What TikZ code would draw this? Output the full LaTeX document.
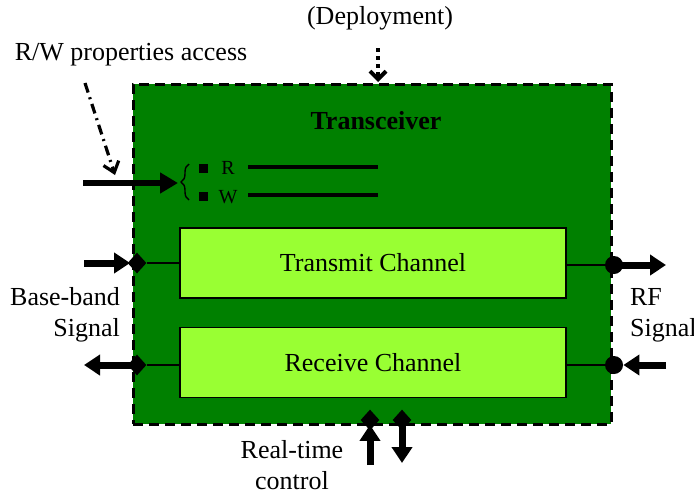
\documentclass[tikz,border=0pt]{standalone}
\usepackage{fontspec}
\setmainfont{Liberation Serif}
\usepackage{tikz}
\usetikzlibrary{calc}
\usetikzlibrary{arrows.meta}
\usetikzlibrary{positioning}
\usetikzlibrary{shapes.geometric}
\usetikzlibrary{decorations.pathreplacing}
\definecolor{xcvrgreen}{RGB}{0,128,0}
\definecolor{changreen}{RGB}{153,255,51}
\pgfkeys{tikz/xcvrbox/.style={draw,dash pattern=on 5pt off 3pt,line width=1.5pt,fill=xcvrgreen,minimum width=239pt,minimum height=170pt,inner sep=0pt}}
\pgfkeys{tikz/chanbox/.style={draw,line width=0.6pt,fill=changreen,minimum width=193pt,minimum height=35pt,inner sep=0pt}}
\pgfkeys{tikz/dport/.style={diamond,fill=black,inner sep=0pt,minimum width=9.5pt,minimum height=10.5pt}}
\pgfkeys{tikz/cport/.style={circle,fill=black,inner sep=0pt,minimum size=9pt}}
\pgfkeys{tikz/sig/.style={line width=3.5pt,-{Triangle[length=8pt,width=10pt]}}}
\pgfkeys{tikz/wire/.style={line width=0.8pt}}

\begin{document}
\begin{tikzpicture}[x=0.5pt,y=-0.5pt,font=\fontsize{13}{15.5}\selectfont]
    \useasboundingbox (0,0) rectangle (694,493);
    % transceiver
    \node[xcvrbox] (xcvr) at (372,254) {};
    \node[font=\fontsize{13}{15.5}\selectfont\bfseries] (title) at (376,121) {Transceiver};
    \node[chanbox] (tx) at (373,263) {Transmit Channel};
    \node[chanbox] (rx) at (373,362.5) {Receive Channel};
    % ports
    \node[dport] (bbin) at (137,263) {};
    \node[dport] (bbout) at (137,365) {};
    \node[cport] (rfout) at (614,265) {};
    \node[cport] (rfin) at (614,365) {};
    \node[dport] (rtin) at (370,420) {};
    \node[dport] (rtout) at (402,420) {};
    \draw[wire] (bbin) -- (bbin -| tx.west);
    \draw[wire] (bbout) -- (bbout -| rx.west);
    \draw[wire] (rfout -| tx.east) -- (rfout);
    \draw[wire] (rfin -| rx.east) -- (rfin);
    % signals
    \coordinate (bbsrc) at (84,263);
    \coordinate (bbdst) at (84,365);
    \coordinate (rfdst) at (666,265);
    \coordinate (rfsrc) at (666,365);
    \coordinate (rtsrc) at (370,465);
    \coordinate (rtdst) at (402,463);
    \draw[sig,shorten >=-1.5pt] (bbsrc) -- (bbin);
    \draw[sig] (bbout.center) -- (bbdst);
    \draw[sig] (rfout.center) -- (rfdst);
    \draw[sig] (rfsrc) -- (rfin);
    \draw[sig,shorten >=-3pt] (rtsrc) -- (rtin);
    \draw[sig] (rtout.center) -- (rtdst);
    \node[align=right,anchor=east] (bblbl) at (127,315) {Base-band\\Signal};
    \node[align=left,anchor=west] (rflbl) at (623,315) {RF\\Signal};
    \node[align=center,inner sep=0pt] (rtlbl) at (292,465) {Real-time\\control};
    % properties
    \node (rwlbl) at (131,55) {R/W properties access};
    \coordinate (rwsrc) at (83,183);
    \coordinate (brace) at (178,183);
    \draw[line width=3pt,-{Triangle[length=9pt,width=10pt]}] (rwsrc) -- (brace);
    \draw[line width=0.7pt,decorate,decoration={brace,amplitude=4pt}] (189,200) -- (189,164);
    \node[fill=black,minimum size=4.5pt,inner sep=0pt] (rsq) at (203,168) {};
    \node[fill=black,minimum size=4.5pt,inner sep=0pt] (wsq) at (203,196) {};
    \node[font=\fontsize{10}{12}\selectfont] (rlbl) at (228,168) {R};
    \node[font=\fontsize{10}{12}\selectfont] (wlbl) at (228,197) {W};
    \coordinate (rend) at (378,167);
    \coordinate (wend) at (378,195);
    \draw[line width=2pt] (248,167) -- (rend);
    \draw[line width=2pt] (248,195) -- (wend);
    \draw[line width=1.6pt,dash pattern=on 5pt off 2.5pt on 1pt off 2.5pt,-{Straight Barb[length=5pt,width=8pt]}] (85,83) -- (115,175);
    % deployment
    \node (depl) at (380,18) {(Deployment)};
    \draw[line width=2pt,dotted,-{Straight Barb[length=4pt,width=8pt]}] (378,48) -- (378,82);
\end{tikzpicture}
\end{document}
